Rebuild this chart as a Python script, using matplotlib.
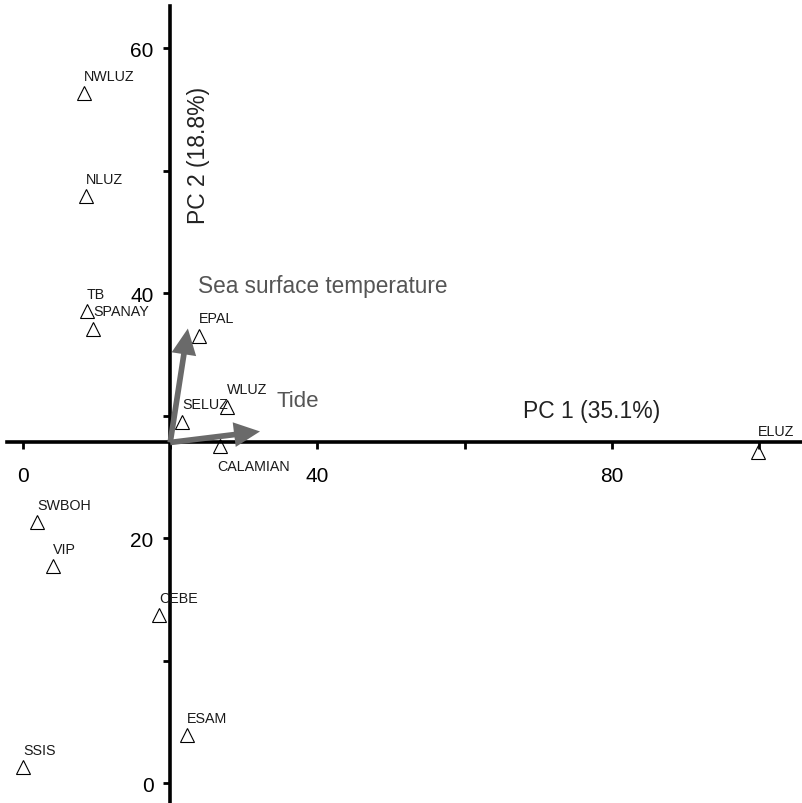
import matplotlib.pyplot as plt

plt.rcParams['font.family'] = ['Liberation Sans', 'DejaVu Sans']

# site scores on the first two principal components
sites = ['NWLUZ', 'NLUZ', 'TB', 'SPANAY', 'EPAL', 'WLUZ', 'SELUZ', 'CALAMIAN',
         'ELUZ', 'SWBOH', 'VIP', 'CEBE', 'ESAM', 'SSIS']
pc1 = [8.3, 8.6, 8.7, 9.5, 23.9, 27.7, 21.6, 26.8,
       99.9, 1.9, 4.1, 18.5, 22.3, 0.0]
pc2 = [56.3, 47.9, 38.5, 37.1, 36.5, 30.7, 29.5, 27.5,
       27.0, 21.3, 17.7, 13.7, 3.9, 1.3]

# environmental vectors
vectors = ['Sea surface temperature', 'Tide']
vec_x = [22.4, 32.2]
vec_y = [37.1, 28.7]

# axes cross here
x0, y0 = 20, 27.8

xticks = [0, 20, 40, 60, 80, 100]
xticklabels = ['0', '', '40', '', '80', '']
yticks = [0, 10, 20, 30, 40, 50, 60]
yticklabels = ['0', '', '20', '', '40', '', '60']

fig = plt.figure(figsize=(8.02, 8.04), dpi=100)
ax = fig.add_axes([0, 0, 1, 1])
ax.set_xlim(-3.125, 105.84)
ax.set_ylim(-1.63, 64.0)

for s in ['top', 'right']:
    ax.spines[s].set_visible(False)
ax.spines['left'].set_position(('data', x0))
ax.spines['bottom'].set_position(('data', y0))
ax.spines['left'].set_bounds(-1.7, 63.4)
ax.spines['bottom'].set_bounds(-2.2, 106)
for s in ['left', 'bottom']:
    ax.spines[s].set_linewidth(2.6)
    ax.spines[s].set_zorder(1)

ax.set_xticks(xticks, xticklabels)
ax.set_yticks(yticks, yticklabels)
ax.tick_params(axis='y', direction='out', length=5, width=2, pad=7, labelsize=15)
ax.tick_params(axis='x', direction='out', length=5, width=2, pad=12, labelsize=15)

# vectors from the origin of the biplot
arrow_style = 'simple,head_length=1.1,head_width=1.05,tail_width=0.24'
for vx, vy in zip(vec_x, vec_y):
    ax.annotate('', xy=(vx, vy), xytext=(x0, y0),
                arrowprops=dict(arrowstyle=arrow_style, mutation_scale=17,
                                color='#6a6a6a', shrinkA=0, shrinkB=0, lw=0),
                zorder=2)
ax.text(23.8, 40.6, vectors[0], fontsize=16.3, color='#555555', va='center', ha='left')
ax.text(34.5, 31.2, vectors[1], fontsize=16, color='#555555', va='center', ha='left')

ax.plot(pc1, pc2, ls='none', marker='^', ms=10, mfc='none', mec='black',
        mew=0.8, zorder=3)
label_offsets = {'CALAMIAN': (-2, -14.5), 'ELUZ': (0, 15)}
for name, x, y in zip(sites, pc1, pc2):
    off = label_offsets.get(name, (0, 12.6))
    ax.annotate(name, (x, y), xytext=off, textcoords='offset points',
                ha='left', va='center', fontsize=10.3, color='#1a1a1a')

ax.text(67.9, 30.4, 'PC 1 (35.1%)', fontsize=16.5, color='#222222', va='center', ha='left')
ax.text(23.8, 51.3, 'PC 2 (18.8%)', fontsize=16.5, color='#222222', va='center',
        ha='center', rotation=90)

fig.savefig('out.png', dpi=100)
